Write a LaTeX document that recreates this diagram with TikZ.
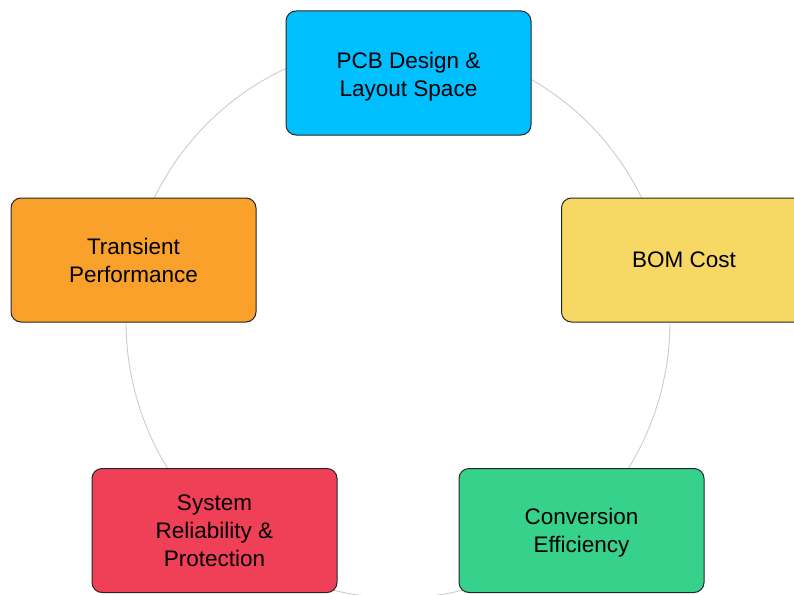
\documentclass[tikz,border=0pt]{standalone}
\usepackage{fontspec}
\setmainfont{Liberation Sans}
\usepackage{tikz}

\definecolor{pcbblue}{RGB}{0,191,255}
\definecolor{bomyellow}{RGB}{247,216,100}
\definecolor{effgreen}{RGB}{54,209,138}
\definecolor{relred}{RGB}{240,64,88}
\definecolor{transorange}{RGB}{249,161,42}

\begin{document}
\begin{tikzpicture}[x=1pt,y=-1pt]
\tikzset{box/.style={draw=black!85,line width=1pt,rounded corners=10pt,
  minimum width=245pt,minimum height=124pt,inner sep=0pt,align=center,
  font=\fontsize{22.5}{28}\selectfont},
  ring/.style={draw=black!20,line width=0.9pt}}
\useasboundingbox (0,0) rectangle (794,594);

\coordinate (c) at (398,321);
\draw[ring] (c) ellipse[x radius=272,y radius=277];

\path (408.5,73) node[box,fill=pcbblue] (pcb) {\rule{0pt}{23pt}PCB Design \&\\Layout Space};
\path (684,260) node[box,fill=bomyellow] (bom) {BOM Cost};
\path (581.5,530.5) node[box,fill=effgreen] (eff) {\rule{0pt}{20.5pt}Conversion\\Efficiency};
\path (214.5,530.5) node[box,fill=relred] (rel) {System\\Reliability \&\\Protection};
\path (133.5,260) node[box,fill=transorange] (trans) {Transient\\Performance};
\end{tikzpicture}
\end{document}
